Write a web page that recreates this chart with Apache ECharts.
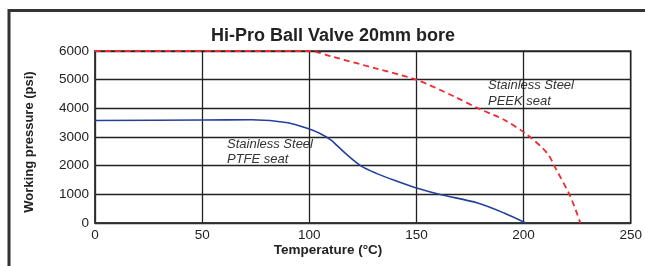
<!DOCTYPE html>
<html><head><meta charset="utf-8">
<script src="https://cdn.jsdelivr.net/npm/echarts@6/dist/echarts.min.js"></script>
<style>html,body{margin:0;padding:0;background:#fff}#c{width:645px;height:266px}</style>
</head><body><div id="c"></div>
<script>
const title = "Hi-Pro Ball Valve 20mm bore";
const xName = "Temperature (°C)";
const yName = "Working pressure (psi)";
const xTicks = [0, 50, 100, 150, 200, 250];
const yTicks = [0, 1000, 2000, 3000, 4000, 5000, 6000];
const ptfeTemp = [0, 50, 73, 90, 100, 105, 110, 113, 117, 124.5, 131, 140, 150, 161.6, 178.6, 190.9, 201];
const ptfePsi  = [3575, 3595, 3600, 3500, 3275, 3120, 2900, 2700, 2420, 1973, 1740, 1480, 1220, 986, 697, 348, 0];
const peekTemp = [0, 50, 100, 110.5, 130.6, 150, 167.7, 178.6, 190.9, 201.7, 211, 214.9, 221.8, 226.5];
const peekPsi  = [6000, 6000, 6000, 5805, 5400, 4993, 4411, 4007, 3600, 3077, 2439, 1916, 927, 0];
const label1 = ["Stainless Steel", "PTFE seat"];
const label2 = ["Stainless Steel", "PEEK seat"];

const FF = "'Liberation Sans', Arial, sans-serif";
const chart = echarts.init(document.getElementById('c'), null, {renderer: 'canvas'});
const pair = (xs, ys) => xs.map((x, i) => [x, ys[i]]);
chart.setOption({
  animation: false,
  backgroundColor: '#fff',
  title: {text: title, left: 328, top: 22, textAlign: 'center',
    textStyle: {fontFamily: FF, fontWeight: 'bold', fontSize: 18, color: '#222'}},
  grid: {left: 95, right: 11, top: 51, bottom: 43, show: true, borderColor: '#333', borderWidth: 1.5},
  xAxis: {type: 'value', min: xTicks[0], max: xTicks[xTicks.length-1], interval: 50,
    axisLine: {show: true, lineStyle: {color: '#333', width: 1.5}},
    axisTick: {show: false},
    splitLine: {show: true, lineStyle: {color: '#222', width: 1.3}},
    axisLabel: {fontFamily: FF, fontSize: 13.5, color: '#222', margin: 5, formatter: v => String(v)}},
  yAxis: {type: 'value', min: yTicks[0], max: yTicks[yTicks.length-1], interval: 1000,
    axisLine: {show: true, lineStyle: {color: '#333', width: 1.5}},
    axisTick: {show: false},
    splitLine: {show: true, lineStyle: {color: '#222', width: 1.3}},
    axisLabel: {fontFamily: FF, fontSize: 13.5, color: '#222', margin: 6, formatter: v => String(v)}},
  graphic: [
    {type: 'rect', shape: {x: 9, y: 10.5, width: 700, height: 300}, style: {fill: 'none', stroke: '#333', lineWidth: 3}, silent: true},
    {type: 'text', x: 328, y: 250, style: {text: xName, fontFamily: FF, fontWeight: 'bold', fontSize: 13.5, fill: '#222', textAlign: 'center', textVerticalAlign: 'middle'}},
    {type: 'text', x: 29, y: 142, rotation: Math.PI/2, style: {text: yName, fontFamily: FF, fontWeight: 'bold', fontSize: 13, fill: '#222', textAlign: 'center', textVerticalAlign: 'middle'}},
    {type: 'text', x: 227, y: 137, style: {text: label1.join('\n'), fontFamily: FF, fontStyle: 'italic', fontSize: 13, lineHeight: 15, fill: '#333'}},
    {type: 'text', x: 488, y: 77, style: {text: label2.join('\n'), fontFamily: FF, fontStyle: 'italic', fontSize: 13, lineHeight: 16, fill: '#333'}}
  ],
  series: [
    {type: 'line', data: pair(ptfeTemp, ptfePsi), smooth: 0.3, showSymbol: false,
      lineStyle: {color: '#24409a', width: 1.6}, z: 3},
    {type: 'line', data: pair(peekTemp, peekPsi), smooth: 0.3, showSymbol: false,
      lineStyle: {color: '#ee2a2f', width: 1.8, type: [6, 4]}, z: 4}
  ]
});
</script></body></html>
